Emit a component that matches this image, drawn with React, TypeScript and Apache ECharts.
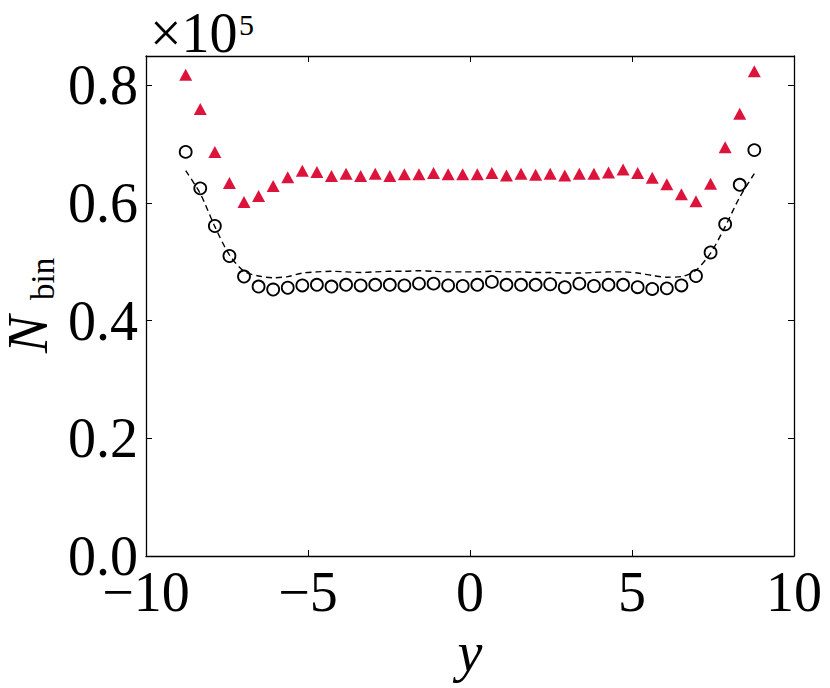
import React, { useRef, useEffect } from 'react';
import * as echarts from 'echarts';

// bin centres along y
const binY = [
  -8.775, -8.325, -7.875, -7.425, -6.975, -6.525, -6.075, -5.625, -5.175, -4.725,
  -4.275, -3.825, -3.375, -2.925, -2.475, -2.025, -1.575, -1.125, -0.675, -0.225,
  0.225, 0.675, 1.125, 1.575, 2.025, 2.475, 2.925, 3.375, 3.825, 4.275,
  4.725, 5.175, 5.625, 6.075, 6.525, 6.975, 7.425, 7.875, 8.325, 8.775,
];

// red triangles (x 1e5)
const triangleVals = [
  0.818, 0.760, 0.687, 0.634, 0.602, 0.612, 0.629, 0.644, 0.655, 0.653,
  0.646, 0.650, 0.646, 0.650, 0.646, 0.649, 0.649, 0.651, 0.649, 0.649,
  0.649, 0.651, 0.647, 0.650, 0.648, 0.650, 0.647, 0.650, 0.650, 0.652,
  0.657, 0.651, 0.643, 0.632, 0.615, 0.603, 0.633, 0.695, 0.752, 0.824,
];

// open circles (x 1e5)
const circleVals = [
  0.687, 0.625, 0.561, 0.510, 0.475, 0.458, 0.453, 0.456, 0.460, 0.461,
  0.458, 0.461, 0.460, 0.461, 0.461, 0.460, 0.463, 0.463, 0.460, 0.459,
  0.461, 0.466, 0.461, 0.461, 0.461, 0.462, 0.457, 0.463, 0.459, 0.461,
  0.461, 0.457, 0.454, 0.455, 0.460, 0.476, 0.516, 0.564, 0.631, 0.690,
];

// dashed curve (x 1e5)
const dashedVals = [
  0.655, 0.616, 0.560, 0.512, 0.484, 0.476, 0.473, 0.475, 0.481, 0.483,
  0.484, 0.483, 0.482, 0.483, 0.484, 0.484, 0.485, 0.484, 0.483, 0.483,
  0.483, 0.484, 0.483, 0.483, 0.482, 0.482, 0.481, 0.481, 0.482, 0.483,
  0.483, 0.481, 0.477, 0.474, 0.475, 0.486, 0.515, 0.560, 0.610, 0.650,
];

const FONT = 'Liberation Serif';
const TICK = 56;

const fmtX = (v: number) => (v < 0 ? '\u2212' + Math.abs(v) : String(v));

export default function App() {
  const ref = useRef<HTMLDivElement>(null);

  useEffect(() => {
    if (!ref.current) return;
    const chart = echarts.init(ref.current, undefined, { renderer: 'svg' });

    const frame = { show: true, onZero: false, lineStyle: { color: '#000', width: 1.3 } };
    const tick = { show: true, inside: true, length: 6, lineStyle: { color: '#000', width: 1 } };

    chart.setOption({
      animation: false,
      backgroundColor: '#fff',
      grid: { left: 146, right: 36, top: 56, bottom: 132 },
      xAxis: [
        {
          type: 'value',
          min: -10,
          max: 10,
          interval: 5,
          axisLine: frame,
          axisTick: tick,
          splitLine: { show: false },
          axisLabel: {
            color: '#000',
            fontSize: TICK,
            fontFamily: FONT,
            margin: 8,
            formatter: fmtX,
          },
        },
        {
          type: 'value',
          position: 'top',
          min: -10,
          max: 10,
          interval: 5,
          axisLine: frame,
          axisTick: tick,
          splitLine: { show: false },
          axisLabel: { show: false },
        },
      ],
      yAxis: [
        {
          type: 'value',
          min: 0,
          max: 0.85,
          interval: 0.2,
          axisLine: frame,
          axisTick: tick,
          splitLine: { show: false },
          axisLabel: {
            color: '#000',
            fontSize: TICK,
            fontFamily: FONT,
            margin: 8,
            showMaxLabel: false,
            formatter: (v: number) => v.toFixed(1),
          },
        },
        {
          type: 'value',
          position: 'right',
          min: 0,
          max: 0.85,
          interval: 0.2,
          axisLine: frame,
          axisTick: tick,
          splitLine: { show: false },
          axisLabel: { show: false },
        },
      ],
      series: [
        {
          type: 'line',
          data: binY.map((y, i) => [y, dashedVals[i]]),
          showSymbol: false,
          smooth: 0.3,
          lineStyle: { color: '#000', width: 1.4, type: [6, 4] },
          z: 1,
        },
        {
          type: 'scatter',
          data: binY.map((y, i) => [y, circleVals[i]]),
          symbol: 'circle',
          symbolSize: 12,
          itemStyle: {
            color: 'rgba(255,255,255,0)',
            borderColor: '#000',
            borderWidth: 1.8,
            opacity: 1,
          },
          z: 2,
        },
        {
          type: 'scatter',
          data: binY.map((y, i) => [y, triangleVals[i]]),
          symbol: 'triangle',
          symbolSize: [13, 12],
          itemStyle: { color: '#DC143C', opacity: 1 },
          z: 3,
        },
      ],
      graphic: [
        {
          type: 'text',
          x: 150,
          y: 33,
          style: {
            text: '\u00d710',
            fontSize: TICK,
            fontFamily: FONT,
            fill: '#000',
            align: 'left',
            verticalAlign: 'middle',
          },
        },
        {
          type: 'text',
          x: 239,
          y: 24,
          style: {
            text: '5',
            fontSize: 30,
            fontFamily: FONT,
            fill: '#000',
            align: 'left',
            verticalAlign: 'middle',
          },
        },
        {
          type: 'group',
          x: 2,
          y: 305,
          rotation: Math.PI / 2,
          children: [
            {
              type: 'text',
              x: -48,
              y: 26,
              style: {
                text: 'N',
                fontSize: 56,
                fontStyle: 'italic',
                fontFamily: FONT,
                fill: '#000',
                align: 'left',
                verticalAlign: 'middle',
              },
            },
            {
              type: 'text',
              x: 5,
              y: 41,
              style: {
                text: 'bin',
                fontSize: 33,
                fontFamily: FONT,
                fill: '#000',
                align: 'left',
                verticalAlign: 'middle',
              },
            },
          ],
        },
        {
          type: 'text',
          x: 470,
          y: 652,
          style: {
            text: 'y',
            fontSize: TICK,
            fontStyle: 'italic',
            fontFamily: FONT,
            fill: '#000',
            align: 'center',
            verticalAlign: 'middle',
          },
        },
      ],
    });

    return () => chart.dispose();
  }, []);

  return (
    <div
      ref={ref}
      style={{ position: 'absolute', left: 0, top: 0, width: 830, height: 688 }}
    />
  );
}
